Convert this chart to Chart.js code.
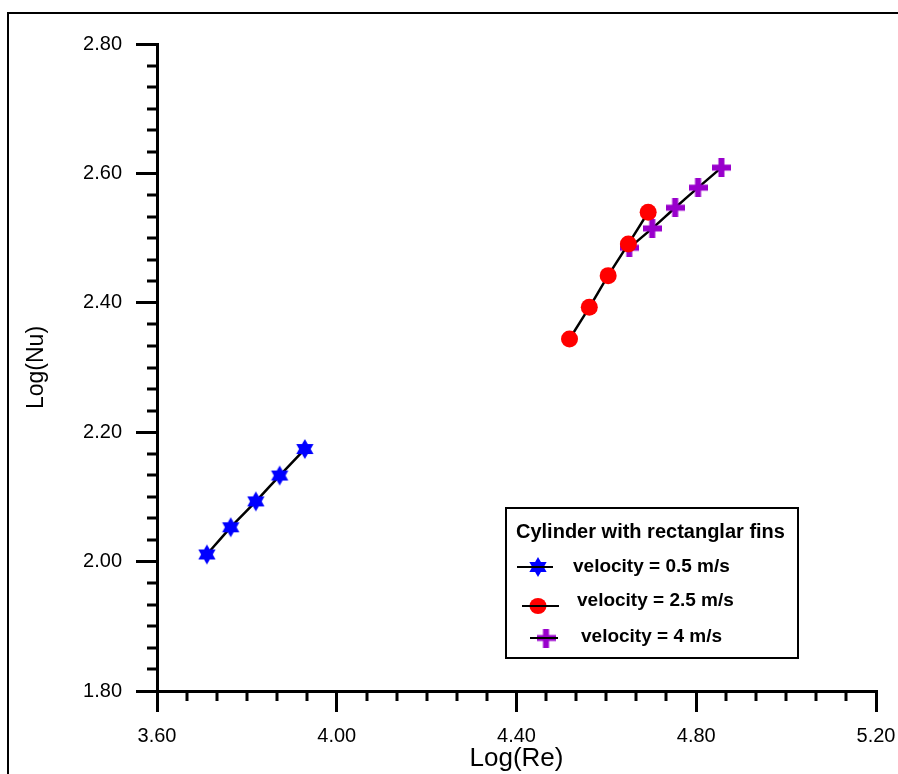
<!DOCTYPE html>
<html>
<head>
<meta charset="utf-8">
<script src="https://cdn.jsdelivr.net/npm/chart.js@4.4.0/dist/chart.umd.min.js"></script>
<style>
  html, body { margin: 0; padding: 0; background: #fff; }
  #wrap { width: 898px; height: 774px; }
</style>
</head>
<body>
<div id="wrap"><canvas id="chart" width="898" height="774"></canvas></div>
<script>
// datos
const legendTitle = 'Cylinder with rectanglar fins';
const seriesNames = ['velocity = 0.5 m/s', 'velocity = 2.5 m/s', 'velocity = 4 m/s'];

const logRe05 = [3.711, 3.764, 3.820, 3.873, 3.929];
const logNu05 = [2.011, 2.053, 2.093, 2.133, 2.174];

const logRe25 = [4.518, 4.562, 4.604, 4.649, 4.693];
const logNu25 = [2.344, 2.393, 2.442, 2.491, 2.540];

const logRe4 = [4.651, 4.702, 4.753, 4.804, 4.856];
const logNu4 = [2.485, 2.515, 2.547, 2.578, 2.609];

const xTicks = [3.6, 4.0, 4.4, 4.8, 5.2];
const yTicks = [1.8, 2.0, 2.2, 2.4, 2.6, 2.8];

const BLUE = '#0000ff';
const RED = '#ff0000';
const PURPLE = '#9900cc';
const FONT = "'Liberation Sans', Arial, sans-serif";

// marcadores propios: estrella de seis puntas y cruz gruesa
function starMarker(color, r) {
    const s = Math.ceil(r * 2 + 2);
    const c = document.createElement('canvas');
    c.width = c.height = s;
    const g = c.getContext('2d');
    g.fillStyle = color;
    [-90, 90].forEach(a0 => {
        g.beginPath();
        for (let k = 0; k < 3; k++) {
            const a = (a0 + k * 120) * Math.PI / 180;
            const px = s / 2 + r * Math.cos(a), py = s / 2 + r * Math.sin(a);
            k === 0 ? g.moveTo(px, py) : g.lineTo(px, py);
        }
        g.closePath();
        g.fill();
    });
    return c;
}

function crossMarker(color, size, thick) {
    const c = document.createElement('canvas');
    c.width = c.height = size;
    const g = c.getContext('2d');
    g.fillStyle = color;
    const o = (size - thick) / 2;
    g.fillRect(0, o, size, thick);
    g.fillRect(o, 0, thick, size);
    return c;
}

const starImg = starMarker(BLUE, 10);
const crossImg = crossMarker(PURPLE, 19, 6);

const toPoints = (xs, ys) => xs.map((x, i) => ({ x: x, y: ys[i] }));

// marco exterior de la figura
const framePlugin = {
    id: 'frame',
    beforeDraw(chart) {
        const ctx = chart.ctx;
        ctx.save();
        ctx.fillStyle = '#fff';
        ctx.fillRect(0, 0, chart.width, chart.height);
        ctx.strokeStyle = '#000';
        ctx.lineWidth = 2;
        ctx.strokeRect(8, 13, chart.width + 20, chart.height + 20);
        ctx.restore();
    }
};

// ticks menores (6 divisiones por intervalo mayor)
const minorTicksPlugin = {
    id: 'minorTicks',
    afterDraw(chart) {
        const ctx = chart.ctx;
        const xs = chart.scales.x, ys = chart.scales.y;
        const area = chart.chartArea;
        ctx.save();
        ctx.strokeStyle = '#000';
        ctx.lineWidth = 3;
        ctx.beginPath();
        for (let i = 0; i < xTicks.length - 1; i++) {
            for (let k = 1; k < 6; k++) {
                const px = Math.round(xs.getPixelForValue(xTicks[i] + k * (xTicks[i + 1] - xTicks[i]) / 6));
                ctx.moveTo(px, area.bottom);
                ctx.lineTo(px, area.bottom + 10);
            }
        }
        for (let i = 0; i < yTicks.length - 1; i++) {
            for (let k = 1; k < 6; k++) {
                const py = Math.round(ys.getPixelForValue(yTicks[i] + k * (yTicks[i + 1] - yTicks[i]) / 6));
                ctx.moveTo(area.left, py);
                ctx.lineTo(area.left - 10, py);
            }
        }
        ctx.stroke();
        ctx.restore();
    }
};

// leyenda dentro del area del grafico
const legendBoxPlugin = {
    id: 'legendBox',
    afterDraw(chart) {
        const ctx = chart.ctx;
        ctx.save();
        ctx.strokeStyle = '#000';
        ctx.lineWidth = 2;
        ctx.strokeRect(506, 508, 292, 150);

        ctx.fillStyle = '#000';
        ctx.textBaseline = 'middle';
        ctx.font = 'bold 20px ' + FONT;
        ctx.fillText(legendTitle, 516, 532);

        ctx.font = 'bold 19px ' + FONT;
        const rows = [
            { y: 567, tx: 573, mx: 538, l0: 517, l1: 553, my: 567 },
            { y: 601, tx: 577, mx: 538, l0: 522, l1: 559, my: 606 },
            { y: 637, tx: 581, mx: 546, l0: 530, l1: 558, my: 638 }
        ];
        rows.forEach((r, i) => {
            if (i === 0) ctx.drawImage(starImg, r.mx - starImg.width / 2, r.my - starImg.height / 2);
            if (i === 1) {
                ctx.fillStyle = RED;
                ctx.beginPath();
                ctx.ellipse(r.mx, r.my, 8.5, 8, 0, 0, Math.PI * 2);
                ctx.fill();
            }
            if (i === 2) ctx.drawImage(crossImg, r.mx - crossImg.width / 2, r.my - crossImg.height / 2);
            ctx.strokeStyle = '#000';
            ctx.lineWidth = 2;
            ctx.beginPath();
            ctx.moveTo(r.l0, r.my);
            ctx.lineTo(r.l1, r.my);
            ctx.stroke();
            ctx.fillStyle = '#000';
            ctx.fillText(seriesNames[i], r.tx, r.y);
        });
        ctx.restore();
    }
};

const axisCommon = {
    type: 'linear',
    border: { display: true, color: '#000', width: 3 },
    grid: {
        drawOnChartArea: false,
        drawTicks: true,
        tickLength: 21,
        color: '#000',
        lineWidth: 3,
        tickWidth: 3
    }
};

new Chart(document.getElementById('chart'), {
    type: 'scatter',
    data: {
        datasets: [
            {
                label: seriesNames[0],
                data: toPoints(logRe05, logNu05),
                showLine: true,
                borderColor: '#000',
                borderWidth: 2.5,
                tension: 0.25,
                pointStyle: starImg,
                pointBackgroundColor: BLUE
            },
            {
                label: seriesNames[1],
                data: toPoints(logRe25, logNu25),
                showLine: true,
                borderColor: '#000',
                borderWidth: 2.5,
                tension: 0.25,
                pointStyle: 'circle',
                pointRadius: 8.5,
                pointBorderWidth: 0,
                pointBackgroundColor: RED,
                pointBorderColor: RED
            },
            {
                label: seriesNames[2],
                data: toPoints(logRe4, logNu4),
                showLine: true,
                borderColor: '#000',
                borderWidth: 2.5,
                tension: 0.25,
                pointStyle: crossImg,
                pointBackgroundColor: PURPLE
            }
        ]
    },
    options: {
        responsive: false,
        devicePixelRatio: 1,
        animation: false,
        layout: { autoPadding: false, padding: { left: 0, top: 44, right: 22, bottom: 0 } },
        plugins: {
            legend: { display: false },
            tooltip: { enabled: false }
        },
        scales: {
            x: {
                ...axisCommon,
                min: 3.6,
                max: 5.2,
                afterFit: s => {
                    s.height = 774 - 44 - 647;
                    s.paddingLeft = 0;
                    s.paddingRight = 0;
                },
                ticks: {
                    stepSize: 0.4,
                    color: '#000',
                    padding: 12,
                    font: { family: FONT, size: 20 },
                    maxRotation: 0,
                    autoSkip: false,
                    callback: v => v.toFixed(2)
                },
                title: {
                    display: true,
                    text: 'Log(Re)',
                    color: '#000',
                    font: { family: FONT, size: 26 },
                    padding: { top: 0, bottom: 0 }
                }
            },
            y: {
                ...axisCommon,
                min: 1.8,
                max: 2.8,
                afterFit: s => {
                    s.width = 157;
                    s.paddingTop = 0;
                    s.paddingBottom = 0;
                },
                ticks: {
                    stepSize: 0.2,
                    color: '#000',
                    padding: 14,
                    font: { family: FONT, size: 20 },
                    autoSkip: false,
                    callback: v => v.toFixed(2)
                },
                title: {
                    display: true,
                    text: 'Log(Nu)',
                    color: '#000',
                    font: { family: FONT, size: 23 },
                    padding: { top: 23, bottom: 0 }
                }
            }
        }
    },
    plugins: [framePlugin, minorTicksPlugin, legendBoxPlugin]
});
</script>
</body>
</html>
